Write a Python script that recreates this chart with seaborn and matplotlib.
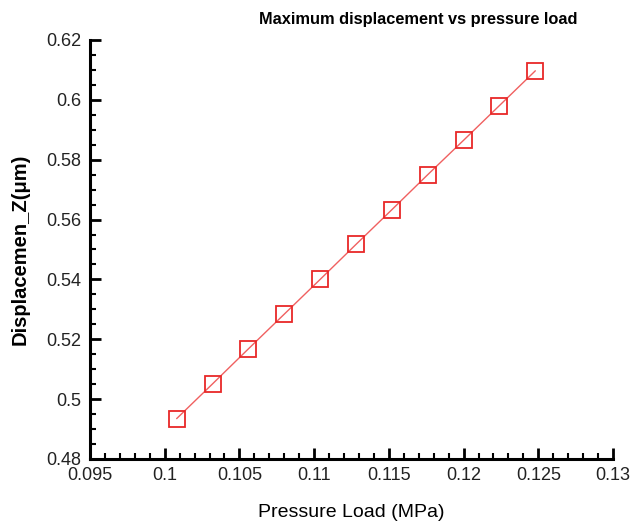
import numpy as np
import pandas as pd
import matplotlib
matplotlib.use("Agg")
import matplotlib.pyplot as plt
import seaborn as sns
from matplotlib.ticker import MultipleLocator

# datos
pressure = [0.1008, 0.1032, 0.1056, 0.1080, 0.1104, 0.1128,
            0.1152, 0.1176, 0.1200, 0.1224, 0.1248]
displacement = [0.4935, 0.5051, 0.5168, 0.5284, 0.5400, 0.5517,
                 0.5633, 0.5750, 0.5865, 0.5981, 0.6097]
x_ticks = [0.095, 0.1, 0.105, 0.11, 0.115, 0.12, 0.125, 0.13]
x_labels = ["0.095", "0.1", "0.105", "0.11", "0.115", "0.12", "0.125", "0.13"]
y_ticks = [0.48, 0.5, 0.52, 0.54, 0.56, 0.58, 0.6, 0.62]
y_labels = ["0.48", "0.5", "0.52", "0.54", "0.56", "0.58", "0.6", "0.62"]

df = pd.DataFrame({"Pressure": pressure, "Displacement": displacement})

sns.set_style("white")
plt.rcParams["font.family"] = ["Liberation Sans", "DejaVu Sans"]
plt.rcParams["text.color"] = "black"
plt.rcParams["axes.labelcolor"] = "black"

fig = plt.figure(figsize=(6.32, 5.22), dpi=100)
ax = fig.add_axes([0.1424, 0.1207, 0.8276, 0.8027])

sns.lineplot(
    data=df, x="Pressure", y="Displacement", ax=ax,
    color="#f06060", linewidth=1.0,
    marker="s", markersize=11, markerfacecolor="none",
    markeredgecolor="#e82828", markeredgewidth=1.3,
)

ax.set_xlim(0.095, 0.13)
ax.set_ylim(0.48, 0.62)
ax.set_xticks(x_ticks)
ax.set_xticklabels(x_labels)
ax.set_yticks(y_ticks)
ax.set_yticklabels(y_labels)
ax.xaxis.set_minor_locator(MultipleLocator(0.001))
ax.yaxis.set_minor_locator(MultipleLocator(0.005))

for side in ["top", "right"]:
    ax.spines[side].set_visible(False)
for side in ["left", "bottom"]:
    ax.spines[side].set_linewidth(2.2)
    ax.spines[side].set_color("black")

ax.tick_params(which="major", direction="in", length=8, width=2.0,
               labelsize=13, colors="black", labelcolor="#222222", pad=6)
ax.tick_params(which="minor", direction="in", length=4.5, width=1.5,
               colors="black")
ax.tick_params(axis="x", which="both", bottom=True)
ax.tick_params(axis="y", which="both", left=True)

ax.set_xlabel("Pressure Load (MPa)", fontsize=14, labelpad=14)
ax.set_ylabel("Displacemen_Z(\u03bcm)", fontsize=14.5, fontweight="bold",
              labelpad=12)

fig.text(0.662, 0.962, "Maximum displacement vs pressure load",
         ha="center", va="center", fontsize=11.8, fontweight="bold")

fig.savefig("out.png", dpi=100)
